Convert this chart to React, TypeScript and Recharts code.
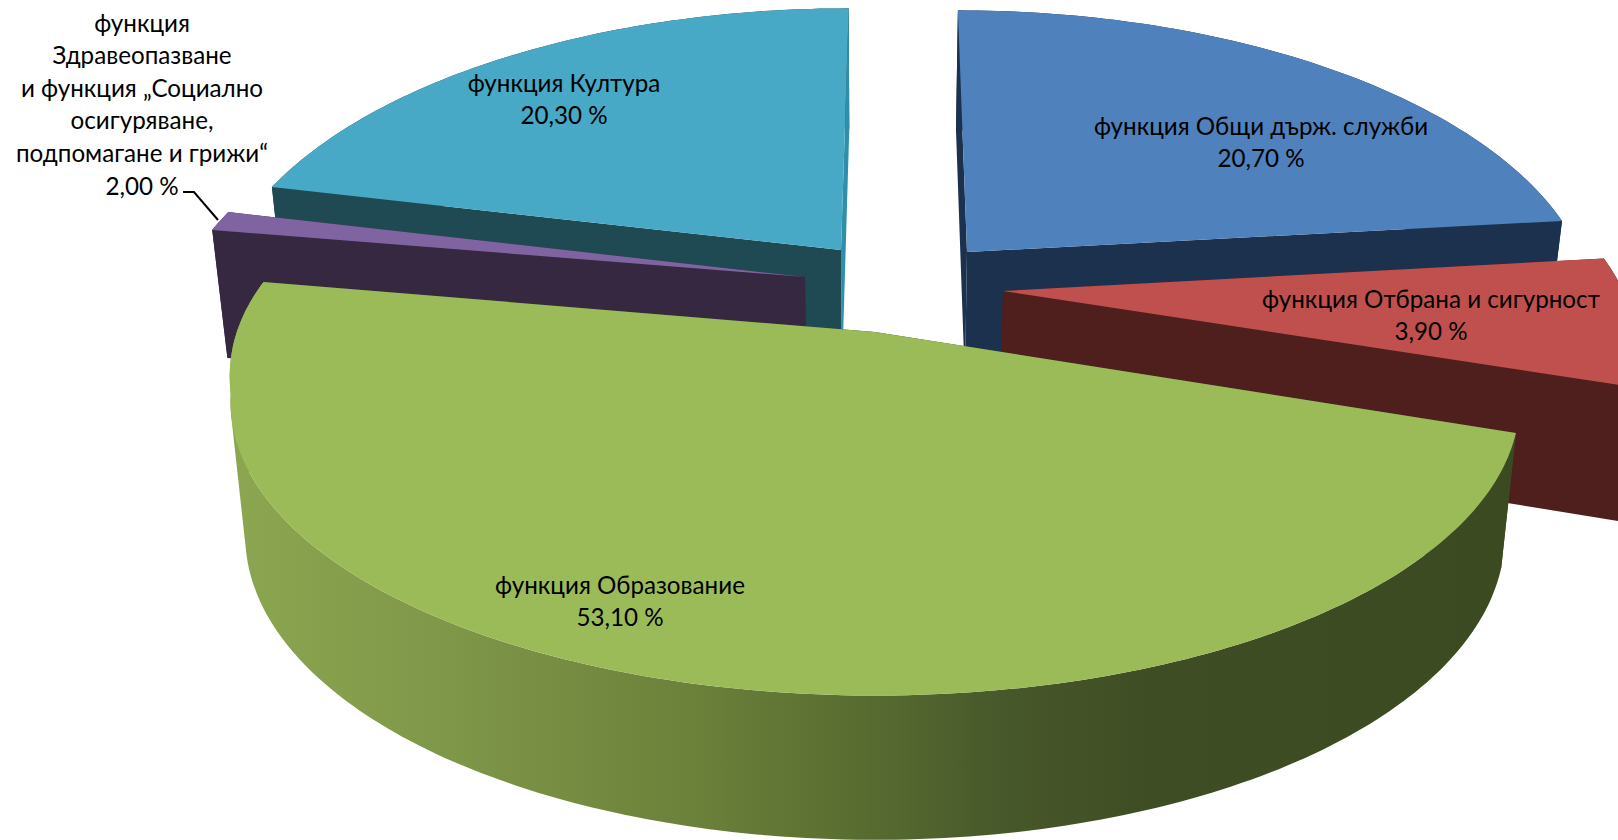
import { PieChart, Pie } from "recharts";

const W = 1618;
const H = 840;
const CENTER_X = 875;
const CENTER_Y = 332;
const VANISH_X = 899;

// drawn in this order, so clockwise start is the teal slice
const FUNCTIONS = ["Култура", "Общи", "Отбрана", "Образование", "Здравеопазване"];
const SHARES = [20.3, 20.7, 3.9, 53.1, 2.0];

const TABLE = FUNCTIONS.map((name, i) => ({ name, value: SHARES[i] }));

const LABEL_LINES: Record<string, string[]> = {
  Култура: ["функция Култура"],
  Общи: ["функция Общи държ. служби"],
  Отбрана: ["функция Отбрана и сигурност"],
  Образование: ["функция Образование"],
  Здравеопазване: [
    "функция",
    "Здравеопазване",
    "и функция „Социално",
    "осигуряване,",
    "подпомагане и грижи“",
  ],
};

const LABEL_AT: Record<string, [number, number]> = {
  Култура: [564, 82],
  Общи: [1261, 125],
  Отбрана: [1431, 298],
  Образование: [620, 584],
  Здравеопазване: [142, 22],
};

const LINE_STEP = 32.6;

const TOP_FILL: Record<string, string> = {
  Култура: "#47a9c5",
  Общи: "#4f81bd",
  Отбрана: "#c0504d",
  Образование: "#9bbb59",
  Здравеопазване: "#8064a2",
};

// [wall at the slice's start, wall at its end]
const WALL_FILL: Record<string, [string, string]> = {
  Култура: ["#1f4a54", "#2f8ea9"],
  Общи: ["#1c314e", "#1c314e"],
  Отбрана: ["#4f1f1d", "#4f1f1d"],
  Образование: ["#3c4a22", "#3c4a22"],
  Здравеопазване: ["#352840", "#352840"],
};

// explode offset of each slice from the pie centre
const EXPLODE: Record<string, [number, number]> = {
  Култура: [-34, -82],
  Общи: [92, -80],
  Отбрана: [128, -41],
  Образование: [0, 0],
  Здравеопазване: [-70, -55],
};

// where each slice's start and end fall on the tilted disc, degrees clockwise from east
const VIEW_ANGLES: Record<string, [number, number]> = {
  Култура: [193.1, 270],
  Общи: [270, 353.7],
  Отбрана: [353.5, 378],
  Образование: [19.6, 190.9],
  Здравеопазване: [189.5, 193.3],
};

const REACH: Record<string, number> = {
  Култура: 1,
  Общи: 1,
  Отбрана: 1.012,
  Образование: 1,
  Здравеопазване: 1.017,
};

const BACK_VIEW = { sx: 613, sy: 290, p: 0.2 };
const FRONT_VIEW = { sx: 626, sy: 277, p: 0.238 };

function project(name: string, cx: number, cy: number, deg: number): [number, number] {
  const isFront = name === "Образование";
  const v = isFront ? FRONT_VIEW : BACK_VIEW;
  const a = (deg * Math.PI) / 180;
  const c = Math.cos(a);
  const s = Math.sin(a);
  const w = 1 - v.p * s;
  const [dx, dy] = EXPLODE[name];
  const ax = cx + dx;
  // exploded slices lean toward the vanishing line as they go back,
  // and the big front slice flares out a little toward its far left corner
  const lean = isFront
    ? c < 0 && s < 0.21
      ? -58 * (0.21 - s)
      : 0
    : 0.8 * (ax - VANISH_X) * (1 / w - 1);
  return [ax + (REACH[name] * v.sx * c) / w + lean, cy + dy + (REACH[name] * v.sy * s) / w];
}

// lower edge of the extruded disc
function drop(pt: [number, number], cx: number): [number, number] {
  const depth = 128 + 0.035 * (pt[1] - 230);
  return [cx + (pt[0] - cx) * 0.977, pt[1] + depth];
}

const toPath = (pts: [number, number][]) =>
  "M" + pts.map((p) => `${p[0].toFixed(1)},${p[1].toFixed(1)}`).join("L") + "Z";

// quad with a fixed winding, so a path of many of them fills as one union
function sideQuad(a: [number, number], b: [number, number], cx: number) {
  const q = [a, b, drop(b, cx), drop(a, cx)] as [number, number][];
  let area = 0;
  q.forEach((p, i) => {
    const n = q[(i + 1) % 4];
    area += p[0] * n[1] - n[0] * p[1];
  });
  return toPath(area < 0 ? q.reverse() : q);
}

function Slice(props: any, only: (name: string) => boolean) {
  const { cx, cy, startAngle, endAngle } = props;
  const key = props.name ?? props.payload?.name;
  if (!only(key)) return <g />;
  const [from, to] = VIEW_ANGLES[key];
  const steps = Math.max(8, Math.round(Math.abs(startAngle - endAngle)));
  const arc: [number, number][] = [];
  for (let i = 0; i <= steps; i++) {
    arc.push(project(key, cx, cy, from + ((to - from) * i) / steps));
  }
  const [ex, ey] = EXPLODE[key];
  const apex: [number, number] = [cx + ex, cy + ey];
  const first = arc[0];
  const last = arc[arc.length - 1];
  const [wallStart, wallEnd] = WALL_FILL[key];
  const isFront = key === "Образование";
  const side = (
    <path
      d={arc.slice(1).map((p, i) => sideQuad(arc[i], p, cx)).join("")}
      fill={isFront ? "url(#frontSide)" : wallStart}
    />
  );
  return (
    <g>
      {isFront && (
        <defs>
          <linearGradient id="frontSide" gradientUnits="userSpaceOnUse" x1="229" y1="0" x2="1516" y2="0">
            <stop offset="0" stopColor="#8ca650" />
            <stop offset="0.17" stopColor="#7f9749" />
            <stop offset="0.366" stopColor="#6b8039" />
            <stop offset="0.506" stopColor="#566a30" />
            <stop offset="0.6" stopColor="#47582a" />
            <stop offset="0.716" stopColor="#3f4d24" />
            <stop offset="1" stopColor="#3c4a22" />
          </linearGradient>
        </defs>
      )}
      {!isFront && side}
      <path d={toPath([apex, last, drop(last, cx), drop(apex, cx)])} fill={wallEnd} />
      <path d={toPath([apex, first, drop(first, cx), drop(apex, cx)])} fill={wallStart} />
      {isFront && side}
      <path d={toPath([apex, ...arc])} fill={TOP_FILL[key]} />
    </g>
  );
}

function SliceLabel(props: any) {
  const key = props.name ?? props.payload?.name;
  const [x, y] = LABEL_AT[key];
  const lines = [...LABEL_LINES[key], `${props.value.toFixed(2).replace(".", ",")} %`];
  return (
    <g>
      {lines.map((line, i) => (
        <text
          key={i}
          x={x}
          y={y + i * LINE_STEP}
          textAnchor="middle"
          dominantBaseline="central"
          fontFamily="Lato, 'Open Sans', sans-serif"
          fontSize={24.2}
          fill="#000"
        >
          {line}
        </text>
      ))}
      {key === "Здравеопазване" && (
        <polyline points="183,192 194,192 218,220" fill="none" stroke="#000" strokeWidth={2} />
      )}
    </g>
  );
}

const isFrontSlice = (n: string) => n === "Образование";
const backShape = (p: any) => Slice(p, (n) => !isFrontSlice(n));
const frontShape = (p: any) => Slice(p, isFrontSlice);

export default function App() {
  return (
    <div style={{ position: "absolute", left: 0, top: 0, width: W, height: H, overflow: "hidden", background: "#fff" }}>
      <PieChart width={W} height={H} margin={{ top: 0, right: 0, bottom: 0, left: 0 }}>
        <Pie
          data={TABLE}
          dataKey="value"
          nameKey="name"
          cx={CENTER_X}
          cy={CENTER_Y}
          outerRadius={300}
          startAngle={163}
          endAngle={-197}
          stroke="none"
          shape={backShape}
          label={false}
          labelLine={false}
          isAnimationActive={false}
        />
        <Pie
          data={TABLE}
          dataKey="value"
          nameKey="name"
          cx={CENTER_X}
          cy={CENTER_Y}
          outerRadius={300}
          startAngle={163}
          endAngle={-197}
          stroke="none"
          shape={frontShape}
          label={SliceLabel}
          labelLine={false}
          isAnimationActive={false}
        />
      </PieChart>
    </div>
  );
}
